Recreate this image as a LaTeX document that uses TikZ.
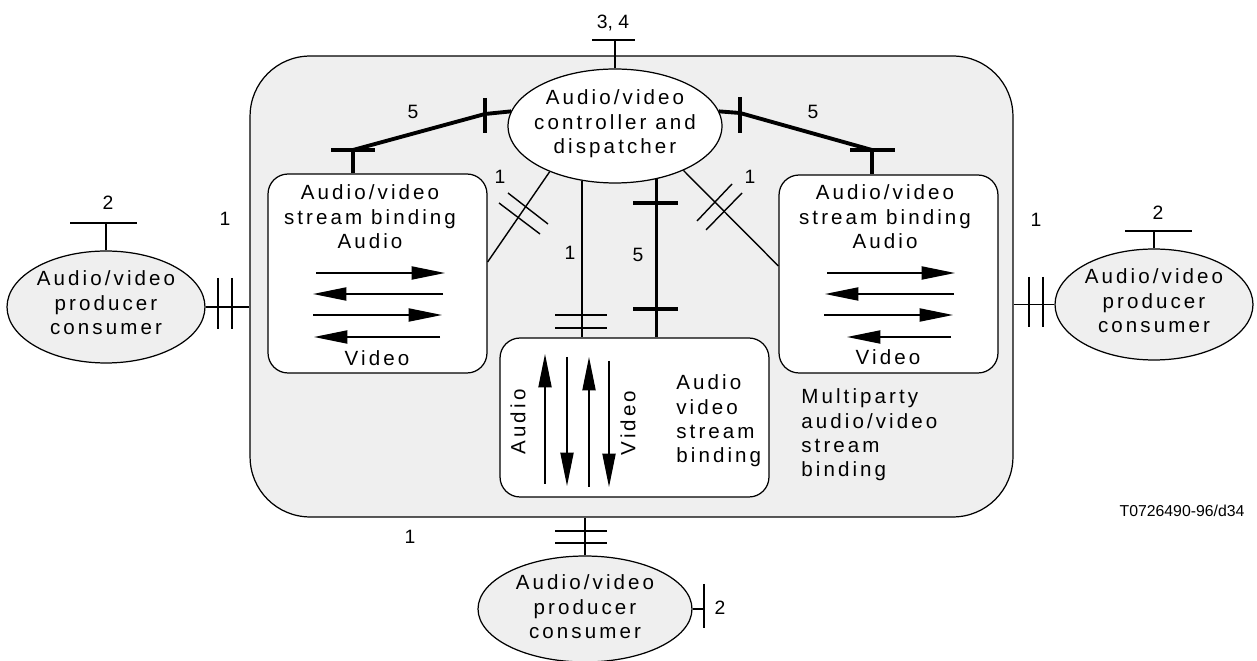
\documentclass[tikz,border=0pt]{standalone}
\usepackage{fontspec}
\setmainfont{Liberation Sans}[LetterSpace=15]
\newfontfamily\plainfont{Liberation Sans}
\usetikzlibrary{shapes.geometric,arrows.meta,calc}
\definecolor{bg}{HTML}{EFEFEF}
\tikzset{
  thin/.style={line width=0.8pt},
  thk/.style={line width=2.2pt},
  txt/.style={font=\fontsize{11.7}{13.9}\selectfont, align=center, inner sep=0pt},
  txtl/.style={font=\fontsize{11.7}{13.9}\selectfont, align=left, inner sep=0pt, anchor=west},
  num/.style={font=\plainfont\fontsize{11}{13}\selectfont, inner sep=0pt},
  pc/.style={ellipse, draw, line width=0.7pt, fill=bg, inner sep=0pt},
  sbox/.style={rectangle, draw, line width=0.7pt, fill=white, rounded corners=0.4cm, inner sep=0pt},
  arr/.style={line width=0.8pt, -{Triangle[length=19pt,width=7.5pt]}}
}
\begin{document}
\begin{tikzpicture}[x=0.02cm,y=-0.02cm]
\useasboundingbox (0,0) rectangle (1257,661);
% big box
\node[rectangle, draw, line width=0.7pt, fill=bg, rounded corners=1.2cm, minimum width=15.26cm, minimum height=9.22cm, inner sep=0pt] (big) at (631.5,286.5) {};
% inner boxes
\node[sbox, minimum width=4.38cm, minimum height=3.98cm] (boxL) at (377.5,273.5) {};
\node[sbox, minimum width=4.38cm, minimum height=3.96cm] (boxR) at (888.5,274) {};
\node[sbox, minimum width=5.38cm, minimum height=3.18cm] (boxC) at (634.5,417.5) {};
% ellipses
\node[ellipse, draw, line width=0.7pt, fill=white, inner sep=0pt, minimum width=4.28cm, minimum height=2.28cm] (ctrl) at (615,126) {};
\node[txt] (ctrlt) at (615,124) {Audio/video\\controller and\\dispatcher};
\node[pc, minimum width=3.96cm, minimum height=2.24cm] (pcL) at (106,307) {};
\node[txt] (pcLt) at (106,303) {Audio/video\\producer\\consumer};
\node[pc, minimum width=3.96cm, minimum height=2.22cm] (pcR) at (1154,304.5) {};
\node[txt] (pcRt) at (1154,301) {Audio/video\\producer\\consumer};
\node[pc, minimum width=4.28cm, minimum height=2.12cm] (pcB) at (585,609) {};
\node[txt] (pcBt) at (585,607) {Audio/video\\producer\\consumer};

% texts in boxes
\node[txt] (tL) at (370,217) {Audio/video\\stream binding\\Audio};
\node[txt] (vL) at (377,358) {Video};
\node[txt] (tR) at (885,217) {Audio/video\\stream binding\\Audio};
\node[txt] (vR) at (888,357) {Video};
\node[txtl] (tC) at (676,421) {Audio\\video\\stream\\binding};
\node[txt, rotate=90] (aC) at (518,422) {Audio};
\node[txt, rotate=90] (vC) at (628,423) {Video};
\node[txtl] (mp) at (801,435) {Multiparty\\audio/video\\stream\\binding};
\node[num, font=\plainfont\fontsize{9}{11}\selectfont] (ref) at (1182,511) {T0726490-96/d34};

% arrows left box
\draw[arr] (316,273) -- (445,273);
\draw[arr] (443,294) -- (313,294);
\draw[arr] (313,315) -- (442,315);
\draw[arr] (440,337) -- (314,337);
% arrows right box
\draw[arr] (827,273) -- (955,273);
\draw[arr] (954,294) -- (825,294);
\draw[arr] (824,315) -- (953,315);
\draw[arr] (951,337) -- (847,337);
% arrows centre box
\draw[arr] (545,484) -- (545,354);
\draw[arr] (567,357) -- (567,486);
\draw[arr] (589,487) -- (589,357);
\draw[arr] (609,361) -- (609,487);

% left producer/consumer
\draw[thin] (pcL.north) -- (106,223);
\draw[thin] (70,223) -- (137,223);
\node[num] (n2L) at (108,203) {2};
\draw[thin] (pcL.east) -- (big.west |- pcL.east);
\draw[thin] (218,278) -- (218,329);
\draw[thin] (232,278) -- (232,329);
\node[num] (n1L) at (225,219) {1};

% right producer/consumer
\draw[thin] (pcR.north) -- (1154,231);
\draw[thin] (1125,231) -- (1192,231);
\node[num] (n2R) at (1158,213) {2};
\draw[thin] (pcR.west) -- (big.east |- pcR.west);
\draw[thin] (1029,277) -- (1029,327);
\draw[thin] (1043,277) -- (1043,327);
\node[num] (n1R) at (1036,220) {1};

% bottom producer/consumer
\draw[thin] (pcB.north) -- (big.south -| pcB.north);
\draw[thin] (555,531) -- (607,531);
\draw[thin] (555,543) -- (607,543);
\node[num] (n1B) at (410,537) {1};
\draw[thin] (pcB.east) -- (704,609);
\draw[thin] (704,584) -- (704,628);
\node[num] (n2B) at (720,608) {2};

% controller top
\draw[thin] (ctrl.north) -- (615,40);
\draw[thin] (592,40) -- (635,40);
\node[num] (n34) at (613,23) {3, 4};

% left 5
\draw[thk] (ctrl.172) -- (485,114) -- (353,150);
\draw[thk] (485,98) -- (485,133);
\draw[thk] (331,150) -- (375,150);
\draw[thk] (353,150) -- (boxL.north -| 353,150);
\node[num] (n5L) at (413,112) {5};
% right 5
\draw[thk] (ctrl.8) -- (740,113) -- (872,150);
\draw[thk] (740,97) -- (740,133);
\draw[thk] (850,150) -- (895,150);
\draw[thk] (872,150) -- (boxR.north -| 872,150);
\node[num] (n5R) at (813,112) {5};

% centre 1
\draw[thin] (ctrl.239) -- (boxC.north -| ctrl.239);
\draw[thin] (555,315) -- (607,315);
\draw[thin] (555,328) -- (607,328);
\node[num] (n1C) at (570,253) {1};
% centre 5
\draw[thk] (ctrl.308) -- (boxC.north -| ctrl.308);
\draw[thk] (633,203) -- (678,203);
\draw[thk] (633,309) -- (678,309);
\node[num] (n5C) at (638,255) {5};

% diagonals
\draw[thin] (ctrl.215) -- ([yshift=0.23cm]boxL.east);
\draw[thin] (508,193) -- (548,224);
\draw[thin] (499,203) -- (540,234);
\node[num] (n1dL) at (500,177) {1};
\draw[thin] (ctrl.327) -- ([yshift=0.16cm]boxR.west);
\draw[thin] (697,221) -- (732,184);
\draw[thin] (706,230) -- (742,193);
\node[num] (n1dR) at (750,177) {1};
\end{tikzpicture}
\end{document}
